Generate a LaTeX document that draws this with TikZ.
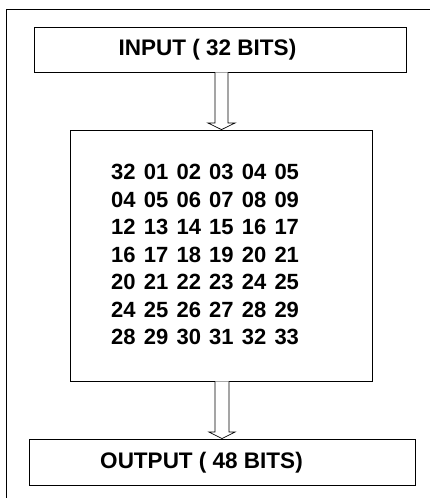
\documentclass[tikz,border=0pt]{standalone}
\usepackage{fontspec}
\setmainfont{Liberation Sans}
\usetikzlibrary{calc}
\tikzset{
  box/.style={draw, line width=0.8pt, rectangle, inner sep=0pt},
  title/.style={font=\fontsize{22.5}{24}\selectfont\bfseries, inner sep=0pt, anchor=center},
  numrow/.style={font=\fontsize{22}{23}\selectfont\bfseries, inner sep=0pt, anchor=west},
  frameline/.style={line width=0.9pt},
  blockarrow/.style={line width=0.7pt, fill=white, line join=miter}
}
\newcommand{\gp}{\hspace{8.2pt}}
\begin{document}
\begin{tikzpicture}[x=1pt,y=-1pt]
\useasboundingbox (0,0) rectangle (430,498);
% outer frame (top and left edges)
\coordinate (ftr) at (430,9);
\coordinate (ftl) at (6,9);
\coordinate (fbl) at (6,498);
\draw[frameline] (ftr) -- (ftl) -- (fbl);
% boxes
\node[box, minimum width=372pt, minimum height=45pt] (in) at (220,49.5) {};
\node[box, minimum width=302pt, minimum height=251pt] (mid) at (221,255.5) {};
\node[box, minimum width=386pt, minimum height=46pt] (out) at (222,462) {};
% titles
\node[title] (intext) at (207.5,50) {INPUT ( 32 BITS)};
\node[title] (outtext) at (201.5,462.5) {OUTPUT ( 48 BITS)};
% numbers
\node[numrow] (r1) at (111,172) {32\gp 01\gp 02\gp 03\gp 04\gp 05};
\node[numrow] (r2) at (111,199.5) {04\gp 05\gp 06\gp 07\gp 08\gp 09};
\node[numrow] (r3) at (111,227) {12\gp 13\gp 14\gp 15\gp 16\gp 17};
\node[numrow] (r4) at (111,254.5) {16\gp 17\gp 18\gp 19\gp 20\gp 21};
\node[numrow] (r5) at (111,282) {20\gp 21\gp 22\gp 23\gp 24\gp 25};
\node[numrow] (r6) at (111,309.5) {24\gp 25\gp 26\gp 27\gp 28\gp 29};
\node[numrow] (r7) at (111,337) {28\gp 29\gp 30\gp 31\gp 32\gp 33};
% block arrow input -> mid
\draw[blockarrow] (in.south -| 215,0) -- (215,123) -- (208,123) -- (mid.north -| 221.5,0) -- (235,123) -- (228,123) -- (in.south -| 228,0);
% block arrow mid -> out
\draw[blockarrow] (mid.south -| 215,0) -- (215,432) -- (209,432) -- (out.north -| 222,0) -- (235,432) -- (229,432) -- (mid.south -| 229,0);
\end{tikzpicture}
\end{document}
